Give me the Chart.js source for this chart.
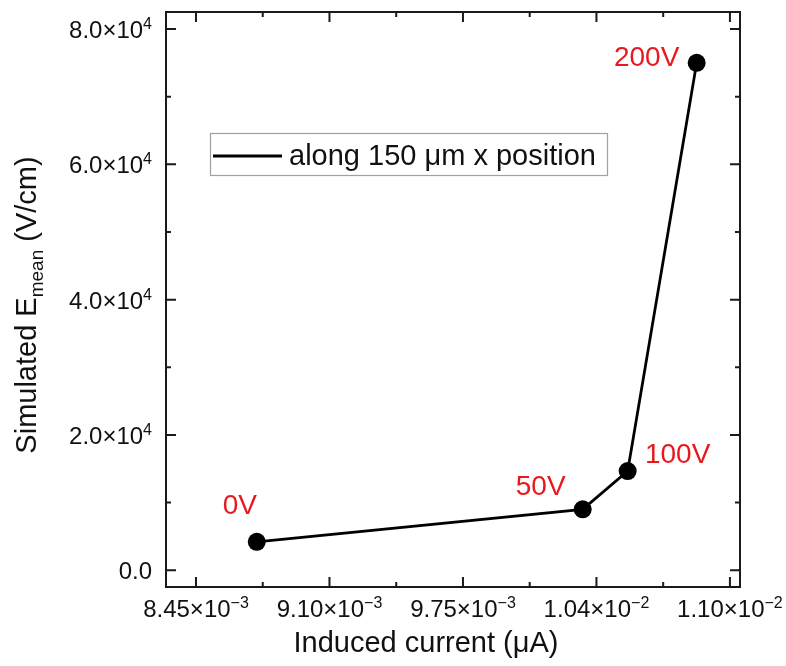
<!DOCTYPE html>
<html>
<head>
<meta charset="utf-8">
<script src="https://cdn.jsdelivr.net/npm/chart.js@4"></script>
<style>
  html, body { margin: 0; padding: 0; background: #fff; }
  #wrap { width: 786px; height: 666px; position: relative; }
</style>
</head>
<body>
<div id="wrap"><canvas id="c"></canvas></div>
<script>
// Bias voltage for each simulated point
const biasLabels = ['0V', '50V', '100V', '200V'];
// Induced current (µA)
const inducedCurrent = [0.008746, 0.010333, 0.010552, 0.010888];
// Simulated mean electric field (V/cm)
const meanField = [4200, 9000, 14650, 75000];
const seriesName = 'along 150 \u03BCm x position';

// Axis ticks
const xTicks = [0.00845, 0.0091, 0.00975, 0.0104, 0.01105];
const xTickMantissa = ['8.45', '9.10', '9.75', '1.04', '1.10'];
const xTickExponent = ['\u22123', '\u22123', '\u22123', '\u22122', '\u22122'];
const xMinorTicks = [0.008775, 0.009425, 0.010075, 0.010725];
const yTicks = [0, 20000, 40000, 60000, 80000];
const yTickMantissa = ['0.0', '2.0', '4.0', '6.0', '8.0'];
const yTickExponent = ['', '4', '4', '4', '4'];
const yMinorTicks = [10000, 30000, 50000, 70000];

const FONT = '"Liberation Sans", Arial, Helvetica, sans-serif';
const AXIS_COLOR = '#1a1a1a';
const LABEL_RED = '#e8191e';

// pixel offsets of each voltage label from its point
const labelOffsets = [[-17, -36], [-42, -22], [50, -16], [-50, -5]];

function font(size) { return size + 'px ' + FONT; }

// draw a run of text pieces (main / superscript / subscript) starting at x
function richWidth(ctx, parts) {
  let w = 0;
  for (const p of parts) { ctx.font = font(p.size); w += ctx.measureText(p.t).width; }
  return w;
}
function drawRich(ctx, parts, x, y, align) {
  const w = richWidth(ctx, parts);
  let cx = align === 'center' ? x - w / 2 : align === 'right' ? x - w : x;
  ctx.textAlign = 'left';
  ctx.textBaseline = 'alphabetic';
  for (const p of parts) {
    ctx.font = font(p.size);
    ctx.fillText(p.t, cx, y + (p.dy || 0));
    cx += ctx.measureText(p.t).width;
  }
}
function tickParts(m, e) {
  const parts = [{ t: m, size: 24 }];
  if (e) {
    parts.push({ t: '\u00D7', size: 24 });
    parts.push({ t: '10', size: 24 });
    parts.push({ t: e, size: 16, dy: -9 });
  }
  return parts;
}

const framePlugin = {
  id: 'frame',
  afterDatasetsDraw(chart) {
    const { ctx, chartArea: a, scales } = chart;
    const xs = scales.x, ys = scales.y;
    ctx.save();
    ctx.strokeStyle = AXIS_COLOR;
    ctx.fillStyle = AXIS_COLOR;
    ctx.lineWidth = 2;
    ctx.lineCap = 'butt';
    ctx.strokeRect(a.left, a.top, a.right - a.left, a.bottom - a.top);

    // tick marks, pointing inward on all four sides
    const major = 10, minor = 5;
    ctx.beginPath();
    xTicks.forEach(v => {
      const px = xs.getPixelForValue(v);
      ctx.moveTo(px, a.bottom); ctx.lineTo(px, a.bottom - major);
      ctx.moveTo(px, a.top); ctx.lineTo(px, a.top + major);
    });
    xMinorTicks.forEach(v => {
      const px = xs.getPixelForValue(v);
      ctx.moveTo(px, a.bottom); ctx.lineTo(px, a.bottom - minor);
      ctx.moveTo(px, a.top); ctx.lineTo(px, a.top + minor);
    });
    yTicks.forEach(v => {
      const py = ys.getPixelForValue(v);
      ctx.moveTo(a.left, py); ctx.lineTo(a.left + major, py);
      ctx.moveTo(a.right, py); ctx.lineTo(a.right - major, py);
    });
    yMinorTicks.forEach(v => {
      const py = ys.getPixelForValue(v);
      ctx.moveTo(a.left, py); ctx.lineTo(a.left + minor, py);
      ctx.moveTo(a.right, py); ctx.lineTo(a.right - minor, py);
    });
    ctx.stroke();

    // tick labels
    ctx.fillStyle = '#111';
    xTicks.forEach((v, i) => {
      const px = xs.getPixelForValue(v);
      drawRich(ctx, tickParts(xTickMantissa[i], xTickExponent[i]), px, a.bottom + 30, 'center');
    });
    yTicks.forEach((v, i) => {
      const py = ys.getPixelForValue(v);
      drawRich(ctx, tickParts(yTickMantissa[i], yTickExponent[i]), a.left - 14, py + 9, 'right');
    });

    // axis titles
    drawRich(ctx, [{ t: 'Induced current (\u03BCA)', size: 29 }], 426, a.bottom + 65, 'center');
    ctx.save();
    ctx.translate(36, 305);
    ctx.rotate(-Math.PI / 2);
    drawRich(ctx, [
      { t: 'Simulated E', size: 29 },
      { t: 'mean', size: 19, dy: 7 },
      { t: ' (V/cm)', size: 29 }
    ], 0, 0, 'center');
    ctx.restore();

    // voltage labels beside each point
    const meta = chart.getDatasetMeta(0);
    ctx.fillStyle = LABEL_RED;
    ctx.font = font(28);
    ctx.textAlign = 'center';
    ctx.textBaseline = 'middle';
    meta.data.forEach((pt, i) => {
      const o = labelOffsets[i];
      ctx.fillText(biasLabels[i], pt.x + o[0], pt.y + o[1]);
    });

    // legend box
    const ds = chart.data.datasets[0];
    ctx.strokeStyle = '#a0a0a0';
    ctx.lineWidth = 1.2;
    ctx.strokeRect(210.5, 133.5, 397, 42);
    ctx.strokeStyle = ds.borderColor;
    ctx.lineWidth = ds.borderWidth;
    ctx.beginPath();
    ctx.moveTo(213, 156); ctx.lineTo(282, 156);
    ctx.stroke();
    ctx.fillStyle = '#111';
    ctx.font = font(29);
    ctx.textAlign = 'left';
    ctx.textBaseline = 'middle';
    ctx.fillText(ds.label, 289, 157);
    ctx.restore();
  }
};

new Chart(document.getElementById('c'), {
  type: 'line',
  data: {
    datasets: [{
      label: seriesName,
      data: inducedCurrent.map((x, i) => ({ x, y: meanField[i] })),
      borderColor: '#000',
      borderWidth: 2.8,
      backgroundColor: '#000',
      pointRadius: 9,
      pointBorderWidth: 0,
      pointBackgroundColor: '#000',
      tension: 0
    }]
  },
  options: {
    responsive: true,
    maintainAspectRatio: false,
    animation: false,
    layout: { padding: { left: 166, top: 12, right: 46, bottom: 79 } },
    plugins: { legend: { display: false }, tooltip: { enabled: false } },
    scales: {
      x: {
        type: 'linear', min: 0.008304, max: 0.011099,
        grid: { display: false, drawTicks: false }, border: { display: false },
        ticks: { display: false },
        afterFit(s) { s.height = 0; }
      },
      y: {
        type: 'linear', min: -2480, max: 82520,
        grid: { display: false, drawTicks: false }, border: { display: false },
        ticks: { display: false },
        afterFit(s) { s.width = 0; }
      }
    }
  },
  plugins: [framePlugin]
});
</script>
</body>
</html>
